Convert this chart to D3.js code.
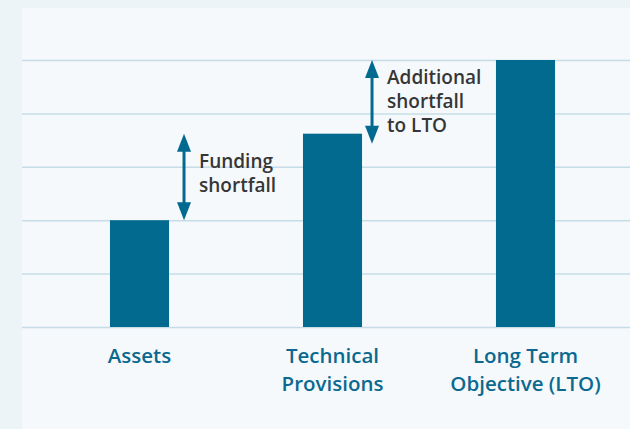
<!DOCTYPE html>
<html>
<head>
<meta charset="utf-8">
<script src="https://cdn.jsdelivr.net/npm/d3@7"></script>
<style>
  body { margin: 0; background: #ecf4f7; }
  svg { display: block; }
</style>
</head>
<body>
<div id="chart"></div>
<script>
// data
const categories = ["Assets", "Technical Provisions", "Long Term Objective (LTO)"];
const labelLines = [["Assets"], ["Technical", "Provisions"], ["Long Term", "Objective (LTO)"]];
const values = [2, 3.62, 5];
const gridTicks = [0, 1, 2, 3, 4, 5];

// shortfall arrows: after which bar, from value, to value, text lines
const arrowAfter = ["Assets", "Technical Provisions"];
const arrowFrom = [2, 3.43];
const arrowTo = [3.62, 5];
const arrowText = [["Funding", "shortfall"], ["Additional", "shortfall", "to LTO"]];

const W = 630, H = 429;
const barColor = "#02698f";
const font = "'Open Sans', Lato, sans-serif";

const svg = d3.select("#chart").append("svg")
    .attr("width", W)
    .attr("height", H);

// panel
svg.append("rect")
    .attr("x", 22).attr("y", 8)
    .attr("width", W - 22).attr("height", H - 8)
    .attr("fill", "#f5f9fc");

const x = d3.scaleBand()
    .domain(categories)
    .range([43, 622])
    .paddingInner(0.694)
    .paddingOuter(0.347);

const y = d3.scaleLinear()
    .domain([0, 5])
    .range([327, 60]);

// gridlines
svg.append("g")
  .selectAll("line")
  .data(gridTicks)
  .join("line")
    .attr("x1", 22).attr("x2", W)
    .attr("y1", d => y(d) + 0.5).attr("y2", d => y(d) + 0.5)
    .attr("stroke", "#c6dce7")
    .attr("stroke-width", 1.5);

// bars
svg.append("g")
  .selectAll("rect")
  .data(categories)
  .join("rect")
    .attr("x", d => x(d))
    .attr("y", (d, i) => y(values[i]))
    .attr("width", x.bandwidth())
    .attr("height", (d, i) => y(0) - y(values[i]))
    .attr("fill", barColor);

// category labels
const labels = svg.append("g")
  .selectAll("text")
  .data(categories)
  .join("text")
    .attr("x", d => x(d) + x.bandwidth() / 2)
    .attr("y", 363)
    .attr("text-anchor", "middle")
    .attr("fill", "#0b6990")
    .style("font-family", font)
    .style("font-weight", 600)
    .style("font-size", "20.5px");

labels.selectAll("tspan")
  .data((d, i) => labelLines[i])
  .join("tspan")
    .attr("x", function() { return d3.select(this.parentNode).attr("x"); })
    .attr("dy", (d, i) => i === 0 ? 0 : 28)
    .text(d => d);

// arrows
const arrowOffset = [15, 10];
const head = 18, headW = 7;

arrowAfter.forEach((cat, i) => {
  const ax = x(cat) + x.bandwidth() + arrowOffset[i];
  const top = y(arrowTo[i]), bot = y(arrowFrom[i]);
  const g = svg.append("g");
  g.append("line")
      .attr("x1", ax).attr("x2", ax)
      .attr("y1", top + head - 1).attr("y2", bot - head + 1)
      .attr("stroke", barColor)
      .attr("stroke-width", 3);
  g.append("path")
      .attr("d", `M${ax},${top} L${ax + headW},${top + head} L${ax - headW},${top + head} Z`)
      .attr("fill", barColor);
  g.append("path")
      .attr("d", `M${ax},${bot} L${ax + headW},${bot - head} L${ax - headW},${bot - head} Z`)
      .attr("fill", barColor);

  const t = g.append("text")
      .attr("x", ax + 15)
      .attr("y", i === 0 ? 168 : 84)
      .attr("fill", "#363636")
      .style("font-family", font)
      .style("font-weight", 600)
      .style("font-size", "19px");
  t.selectAll("tspan")
    .data(arrowText[i])
    .join("tspan")
      .attr("x", ax + 15)
      .attr("dy", (d, j) => j === 0 ? 0 : 24)
      .text(d => d);
});
</script>
</body>
</html>
